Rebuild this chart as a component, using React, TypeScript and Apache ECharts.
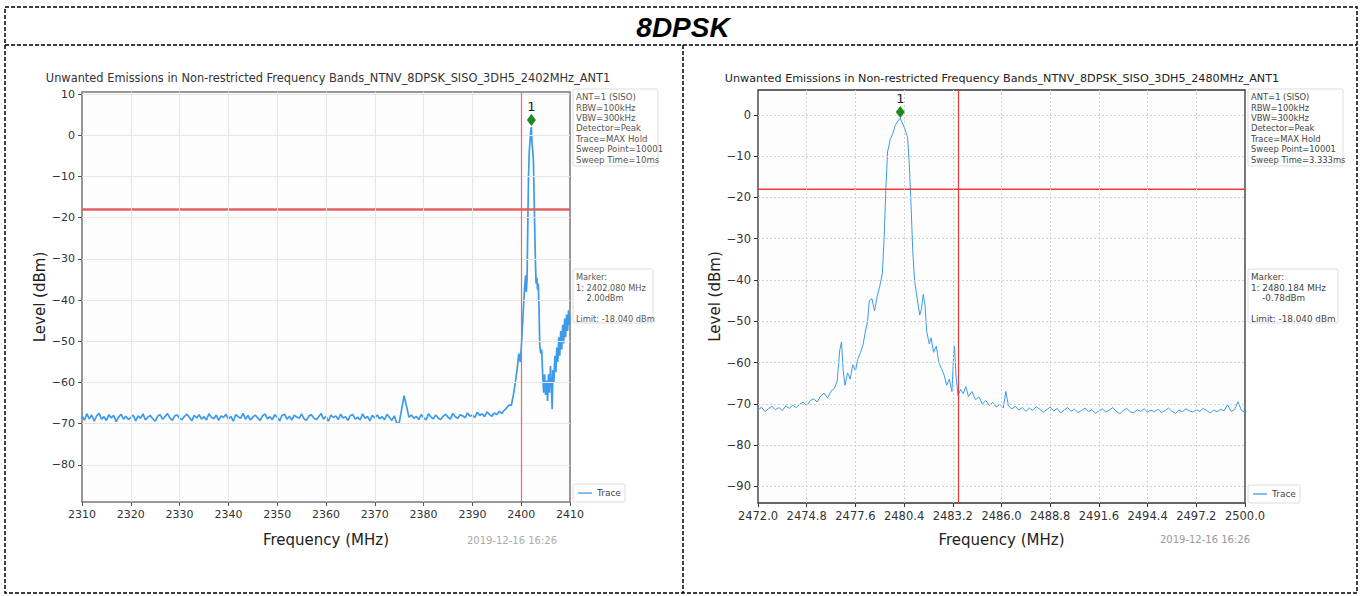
import React, { useEffect, useRef } from "react";
import * as echarts from "echarts";

const headerTitle = "8DPSK";
const leftTitle = "Unwanted Emissions in Non-restricted Frequency Bands_NTNV_8DPSK_SISO_3DH5_2402MHz_ANT1";
const rightTitle = "Unwanted Emissions in Non-restricted Frequency Bands_NTNV_8DPSK_SISO_3DH5_2480MHz_ANT1";
const xAxisName = "Frequency (MHz)";
const yAxisName = "Level (dBm)";
const dateStamp = "2019-12-16 16:26";
const legendName = "Trace";

const leftInfo = ["ANT=1 (SISO)", "RBW=100kHz", "VBW=300kHz", "Detector=Peak", "Trace=MAX Hold", "Sweep Point=10001", "Sweep Time=10ms"];
const rightInfo = ["ANT=1 (SISO)", "RBW=100kHz", "VBW=300kHz", "Detector=Peak", "Trace=MAX Hold", "Sweep Point=10001", "Sweep Time=3.333ms"];
const leftMarkerInfo = ["Marker:", "1: 2402.080 MHz", "    2.00dBm", "", "Limit: -18.040 dBm"];
const rightMarkerInfo = ["Marker:", "1: 2480.184 MHz", "    -0.78dBm", "", "Limit: -18.040 dBm"];

const limitLevel = -18.04;
const leftRange = [2310, 2410];
const rightRange = [2472, 2500];
const leftEdgeFreq = 2400;
const rightEdgeFreq = 2483.5;
const leftMarker = [2402.08, 2.0];
const rightMarker = [2480.184, -0.78];

const leftXTicks = [2320, 2330, 2340, 2350, 2360, 2370, 2380, 2390, 2400];
const rightXTicks = [2474.8, 2477.6, 2480.4, 2483.2, 2486.0, 2488.8, 2491.6, 2494.4, 2497.2];
const leftYTicks = [10, 0, -10, -20, -30, -40, -50, -60, -70, -80];
const rightYTicks = [0, -10, -20, -30, -40, -50, -60, -70, -80, -90];

// left chart noise floor: sweep points from 2310 MHz every 0.5 MHz
const leftFloorStart = 2310;
const leftFloorStep = 0.5;
const leftFloorLevels = [
  -68.2, -69.1, -67.6, -68.8, -67.9, -69.4, -68.1, -67.5, -68.9, -68.3,
  -69.2, -67.8, -68.6, -68.0, -69.5, -68.4, -67.7, -68.9, -68.2, -69.0,
  -68.5, -67.9, -69.3, -68.1, -68.7, -67.6, -69.1, -68.4, -68.0, -68.8,
  -69.4, -68.2, -67.8, -68.9, -68.3, -67.5, -68.6, -69.2, -68.1, -67.9,
  -68.7, -69.0, -68.2, -67.7, -68.5, -69.3, -68.0, -68.6, -67.8, -68.9,
  -68.3, -69.1, -67.6, -68.4, -68.8, -67.9, -69.2, -68.1, -68.5, -67.7,
  -68.9, -68.2, -69.4, -67.8, -68.3, -68.7, -67.5, -68.9, -68.0, -69.1,
  -68.4, -67.9, -68.6, -69.2, -68.1, -67.6, -68.8, -68.3, -69.0, -67.8,
  -68.5, -69.3, -68.0, -67.7, -68.9, -68.2, -69.1, -67.9, -68.4, -68.7,
  -67.6, -68.8, -69.2, -68.1, -67.8, -68.6, -69.0, -68.3, -67.5, -68.9,
  -68.2, -69.4, -67.9, -68.5, -68.1, -69.0, -67.7, -68.6, -68.3, -69.2,
  -68.0, -67.8, -68.9, -68.4, -69.1, -67.6, -68.7, -68.2, -69.3, -68.0,
  -68.6, -67.9, -68.8, -68.3, -69.0, -67.7, -68.5, -69.2, -68.1, -69.9,
  -69.8, -66.5, -63.2, -65.8, -68.4, -67.9, -68.7, -68.2, -69.0, -67.8,
  -68.5, -69.1, -67.6, -68.4, -68.8, -67.9, -68.6, -69.0, -68.2, -67.7,
  -68.4, -68.9, -67.5, -68.3, -68.7, -67.8, -68.1, -68.6, -67.4, -68.2,
  -67.9, -68.5, -67.2, -68.0, -67.6, -68.3, -67.1, -67.8, -68.2, -67.4,
  -67.8, -67.0, -67.5, -66.8, -66.2, -65.5,
];
// left chart carrier region: [MHz, dBm]
const leftCarrier = [
  [2398.0, -65.5], [2398.4, -63.0], [2398.8, -60.0], [2399.2, -56.5], [2399.5, -53.0],
  [2399.8, -55.0], [2400.1, -50.0], [2400.4, -43.0], [2400.7, -37.0], [2400.9, -34.0],
  [2401.05, -38.0], [2401.2, -35.0], [2401.35, -22.0], [2401.5, -10.0], [2401.65, -4.0],
  [2401.8, -1.5], [2401.95, 1.0], [2402.08, 2.0], [2402.2, -1.5], [2402.35, -3.5],
  [2402.5, -6.0], [2402.7, -18.0], [2402.9, -30.0], [2403.05, -36.0], [2403.2, -34.5],
  [2403.35, -37.5], [2403.5, -36.0], [2403.65, -42.0], [2403.8, -51.0], [2404.0, -53.0],
  [2404.2, -52.0], [2404.4, -58.0], [2404.6, -62.5], [2404.8, -58.0], [2405.0, -63.0],
  [2405.2, -59.5], [2405.4, -64.5], [2405.6, -58.0], [2405.8, -62.5], [2406.0, -56.0],
  [2406.2, -61.0], [2406.35, -66.5], [2406.5, -57.0], [2406.7, -60.0], [2406.9, -53.5],
  [2407.1, -57.5], [2407.3, -51.5], [2407.5, -55.0], [2407.7, -49.0], [2407.9, -53.5],
  [2408.1, -47.5], [2408.3, -52.0], [2408.5, -46.0], [2408.7, -50.5], [2408.9, -44.5],
  [2409.1, -49.0], [2409.3, -43.5], [2409.5, -47.5], [2409.7, -42.5], [2409.85, -46.0],
  [2410.0, -44.0],
];

// right chart lower floor: from 2472 MHz every 0.2 MHz
const rightLowStart = 2472;
const rightLowStep = 0.2;
const rightLowLevels = [
  -71.5, -70.8, -71.9, -71.2, -70.6, -71.4, -70.9, -71.6, -70.5, -71.1,
  -70.3, -70.9, -70.1, -69.6, -70.4, -69.2, -68.8, -69.5, -68.1, -67.4,
  -68.6, -66.9, -66.2,
];
// right chart carrier region: [MHz, dBm]
const rightCarrier = [
  [2476.55, -64.5], [2476.7, -57.0], [2476.8, -55.0], [2476.9, -62.0], [2477.0, -65.5],
  [2477.15, -62.5], [2477.3, -64.0], [2477.45, -60.5], [2477.6, -62.0], [2477.75, -59.0],
  [2477.9, -57.5], [2478.05, -55.5], [2478.15, -53.0], [2478.3, -50.0], [2478.4, -45.0],
  [2478.55, -44.5], [2478.7, -47.5], [2478.85, -44.0], [2479.0, -41.5], [2479.15, -38.5],
  [2479.25, -30.0], [2479.35, -18.0], [2479.45, -9.0], [2479.6, -6.0], [2479.75, -4.5],
  [2479.9, -2.5], [2480.05, -1.5], [2480.18, -0.8], [2480.3, -2.0], [2480.45, -3.5],
  [2480.6, -5.5], [2480.7, -12.0], [2480.8, -22.0], [2480.9, -33.0], [2481.0, -40.0],
  [2481.15, -44.5], [2481.3, -48.5], [2481.4, -47.0], [2481.5, -43.5], [2481.6, -46.0],
  [2481.7, -52.5], [2481.85, -55.5], [2481.95, -54.0], [2482.1, -57.5], [2482.25, -56.0],
  [2482.4, -60.0], [2482.55, -61.5], [2482.7, -63.0], [2482.85, -65.5], [2483.0, -64.0],
  [2483.15, -67.0], [2483.25, -58.0], [2483.3, -56.0], [2483.38, -63.0], [2483.5, -68.0],
  [2483.65, -66.5], [2483.8, -67.5], [2483.95, -65.8], [2484.1, -68.2], [2484.3, -67.0],
  [2484.5, -69.0], [2484.7, -68.3], [2484.9, -70.0], [2485.1, -69.2], [2485.3, -70.4],
  [2485.5, -69.6], [2485.7, -70.8], [2485.9, -70.1], [2486.1, -71.0], [2486.25, -67.0],
  [2486.4, -70.5],
];
// right chart upper floor: from 2486.6 MHz every 0.2 MHz
const rightHighStart = 2486.6;
const rightHighStep = 0.2;
const rightHighLevels = [
  -71.2, -70.6, -71.5, -70.9, -71.8, -71.0, -71.6, -70.7, -71.3, -72.0,
  -71.4, -70.8, -71.7, -71.1, -72.2, -71.5, -70.9, -71.8, -71.3, -72.1,
  -71.6, -71.0, -71.9, -71.4, -72.3, -71.7, -71.2, -72.0, -71.5, -70.9,
  -71.8, -72.4, -71.6, -71.1, -71.9, -72.2, -71.4, -71.8, -71.2, -72.0,
  -71.5, -71.9, -71.3, -72.1, -71.6, -71.0, -71.8, -72.3, -71.5, -71.9,
  -71.2, -71.7, -72.0, -71.4, -71.8, -71.1, -71.6, -72.2, -71.5, -71.9,
  -71.3, -71.7, -70.2, -71.8, -71.4, -69.5, -71.6, -72.0,
];

const FONT = '"DejaVu Sans", "Noto Sans", sans-serif';
const TRACE_COLOR = "#3d9be9";

function uniform(start: number, step: number, levels: number[]) {
  return levels.map((v, i) => [Math.round((start + i * step) * 1000) / 1000, v]);
}

function minusFmt(v: number) {
  return String(v).replace("-", "\u2212");
}

function infoBox(x: number, y: number, w: number, h: number, lines: string[], fontSize: number, color: string) {
  return {
    type: "group",
    children: [
      { type: "rect", shape: { x, y, width: w, height: h, r: 2 }, style: { fill: "#ffffff", stroke: "#dddddd", lineWidth: 1 } },
      {
        type: "text",
        x: x + 3,
        y: y + 3,
        style: { text: lines.join("\n"), font: `${fontSize}px ${FONT}`, fill: color, lineHeight: 10.4, align: "left", verticalAlign: "top" },
      },
    ],
  };
}

function legendBox(x: number, y: number) {
  return {
    type: "group",
    children: [
      { type: "rect", shape: { x, y, width: 52, height: 18, r: 2 }, style: { fill: "#ffffff", stroke: "#dddddd", lineWidth: 1 } },
      { type: "line", shape: { x1: x + 5, y1: y + 9, x2: x + 19, y2: y + 9 }, style: { stroke: TRACE_COLOR, lineWidth: 1.3 } },
      { type: "text", x: x + 24, y: y + 9, style: { text: legendName, font: `9px ${FONT}`, fill: "#444", align: "left", verticalAlign: "middle" } },
    ],
  };
}

function gridLineSeries(xi: number, xTicks: number[], yTicks: number[], color: string, dashed: boolean) {
  return {
    type: "line",
    xAxisIndex: xi,
    yAxisIndex: xi,
    data: [],
    silent: true,
    z: 1,
    markLine: {
      silent: true,
      symbol: "none",
      label: { show: false },
      lineStyle: { color, width: 1, type: dashed ? [2, 2] : "solid" },
      data: yTicks.map((v) => ({ yAxis: v })).concat(xTicks.map((v) => ({ xAxis: v }) as any)),
    },
  };
}

function limitSeries(xi: number, range: number[], color: string, width: number) {
  return {
    type: "line",
    xAxisIndex: xi,
    yAxisIndex: xi,
    data: [[range[0], limitLevel], [range[1], limitLevel]],
    showSymbol: false,
    symbol: "none",
    silent: true,
    z: 4,
    lineStyle: { color, width, type: "solid" },
  };
}

export default function App() {
  const ref = useRef<HTMLDivElement>(null);

  useEffect(() => {
    if (!ref.current) return;
    const chart = echarts.init(ref.current, null, { renderer: "svg" });

    const leftData = uniform(leftFloorStart, leftFloorStep, leftFloorLevels).concat(leftCarrier);
    const rightData = uniform(rightLowStart, rightLowStep, rightLowLevels)
      .concat(rightCarrier)
      .concat(uniform(rightHighStart, rightHighStep, rightHighLevels));

    const axisLabelStyle = { color: "#333", fontSize: 11, fontFamily: FONT };
    const nameStyle = { color: "#222", fontSize: 15, fontFamily: FONT };

    const option: any = {
      animation: false,
      backgroundColor: "#ffffff",
      grid: [
        { left: 82, top: 92, width: 488, height: 410, show: true, borderColor: "#777", borderWidth: 1.5, backgroundColor: "#fdfdfd" },
        { left: 758, top: 90, width: 487, height: 413, show: true, borderColor: "#333", borderWidth: 1.3, backgroundColor: "#fdfdfd" },
      ],
      xAxis: [
        {
          type: "value", gridIndex: 0, min: leftRange[0], max: leftRange[1], interval: 10,
          name: xAxisName, nameLocation: "middle", nameGap: 30, nameTextStyle: nameStyle,
          axisLine: { show: false, onZero: false },
          axisTick: { show: true, inside: false, length: 4, lineStyle: { color: "#555" } },
          axisLabel: { ...axisLabelStyle, margin: 7, showMinLabel: true, showMaxLabel: true, formatter: (v: number) => String(v) },
          splitLine: { show: false },
        },
        {
          type: "value", gridIndex: 1, min: rightRange[0], max: rightRange[1], interval: 2.8,
          name: xAxisName, nameLocation: "middle", nameGap: 29, nameTextStyle: nameStyle,
          axisLine: { show: false, onZero: false },
          axisTick: { show: true, inside: false, length: 4, lineStyle: { color: "#333" } },
          axisLabel: { ...axisLabelStyle, fontSize: 11.5, margin: 7, showMinLabel: true, showMaxLabel: true, formatter: (v: number) => v.toFixed(1) },
          splitLine: { show: false },
        },
      ],
      yAxis: [
        {
          type: "value", gridIndex: 0, min: -89, max: 10.5,
          name: yAxisName, nameLocation: "middle", nameGap: 34, nameRotate: 90, nameTextStyle: nameStyle,
          axisLine: { show: false, onZero: false },
          axisTick: { show: true, inside: false, length: 4, lineStyle: { color: "#555" }, customValues: leftYTicks },
          axisLabel: { ...axisLabelStyle, margin: 7, customValues: leftYTicks, formatter: minusFmt },
          splitLine: { show: false },
        },
        {
          type: "value", gridIndex: 1, min: -94, max: 6,
          name: yAxisName, nameLocation: "middle", nameGap: 34, nameRotate: 90, nameTextStyle: nameStyle,
          axisLine: { show: false, onZero: false },
          axisTick: { show: true, inside: false, length: 4, lineStyle: { color: "#333" }, customValues: rightYTicks },
          axisLabel: { ...axisLabelStyle, fontSize: 11.5, margin: 7, customValues: rightYTicks, formatter: minusFmt },
          splitLine: { show: false },
        },
      ],
      series: [
        gridLineSeries(0, leftXTicks, leftYTicks, "#e6e6e6", false),
        gridLineSeries(1, rightXTicks, rightYTicks, "#d2d2d2", true),
        {
          type: "line", xAxisIndex: 0, yAxisIndex: 0, data: leftData, showSymbol: false, symbol: "none",
          lineStyle: { color: TRACE_COLOR, width: 1.7 }, silent: true, z: 3,
          markLine: {
            silent: true, symbol: "none", label: { show: false },
            lineStyle: { color: "#e86a6a", width: 1.2, type: "solid" },
            data: [{ xAxis: leftEdgeFreq }],
          },
          markPoint: {
            silent: true,
            data: [{ coord: leftMarker, symbol: "diamond", symbolSize: [9, 12], symbolOffset: [0, -7], itemStyle: { color: "#1e8a1e" } }],
            label: { show: true, formatter: "1", position: "top", distance: 1, color: "#222", fontSize: 13, fontFamily: FONT },
          },
        },
        {
          type: "line", xAxisIndex: 1, yAxisIndex: 1, data: rightData, showSymbol: false, symbol: "none",
          lineStyle: { color: TRACE_COLOR, width: 1 }, silent: true, z: 3,
          markLine: {
            silent: true, symbol: "none", label: { show: false },
            lineStyle: { color: "#ec3a3a", width: 1.2, type: "solid" },
            data: [{ xAxis: rightEdgeFreq }],
          },
          markPoint: {
            silent: true,
            data: [{ coord: rightMarker, symbol: "diamond", symbolSize: [9, 12], symbolOffset: [0, -6], itemStyle: { color: "#1e8a1e" } }],
            label: { show: true, formatter: "1", position: "top", distance: 1, color: "#222", fontSize: 13, fontFamily: FONT },
          },
        },
        limitSeries(0, leftRange, "#e06060", 2.5),
        limitSeries(1, rightRange, "#ee3a3a", 1.4),
      ],
      graphic: [
        { type: "rect", shape: { x: 5, y: 7, width: 1352, height: 586 }, style: { fill: "none", stroke: "#000", lineWidth: 1.5, lineDash: [4, 2] } },
        { type: "line", shape: { x1: 5, y1: 45, x2: 1357, y2: 45 }, style: { stroke: "#000", lineWidth: 1.5, lineDash: [4, 2] } },
        { type: "line", shape: { x1: 683, y1: 45, x2: 683, y2: 593 }, style: { stroke: "#000", lineWidth: 1.5, lineDash: [4, 2] } },
        { type: "text", x: 683, y: 27, style: { text: headerTitle, font: 'italic bold 28px "Liberation Sans", Arial, sans-serif', fill: "#000", align: "center", verticalAlign: "middle" } },
        { type: "text", x: 328, y: 78, style: { text: leftTitle, font: `11.4px ${FONT}`, fill: "#333", align: "center", verticalAlign: "middle" } },
        { type: "text", x: 1002, y: 78, style: { text: rightTitle, font: `11.2px ${FONT}`, fill: "#222", align: "center", verticalAlign: "middle" } },
        infoBox(573, 89, 85, 77, leftInfo, 8.6, "#555"),
        infoBox(1248, 89, 95, 77, rightInfo, 8.4, "#444"),
        infoBox(573, 269, 80, 54, leftMarkerInfo, 8.2, "#555"),
        infoBox(1248, 269, 90, 54, rightMarkerInfo, 8.8, "#444"),
        legendBox(573, 484),
        legendBox(1248, 485),
        { type: "text", x: 512, y: 540, style: { text: dateStamp, font: `10px ${FONT}`, fill: "#aaa", align: "center", verticalAlign: "middle" } },
        { type: "text", x: 1205, y: 539, style: { text: dateStamp, font: `10px ${FONT}`, fill: "#999", align: "center", verticalAlign: "middle" } },
      ],
    };

    chart.setOption(option);
    return () => chart.dispose();
  }, []);

  return <div ref={ref} style={{ position: "absolute", left: 0, top: 0, width: 1362, height: 596 }} />;
}
